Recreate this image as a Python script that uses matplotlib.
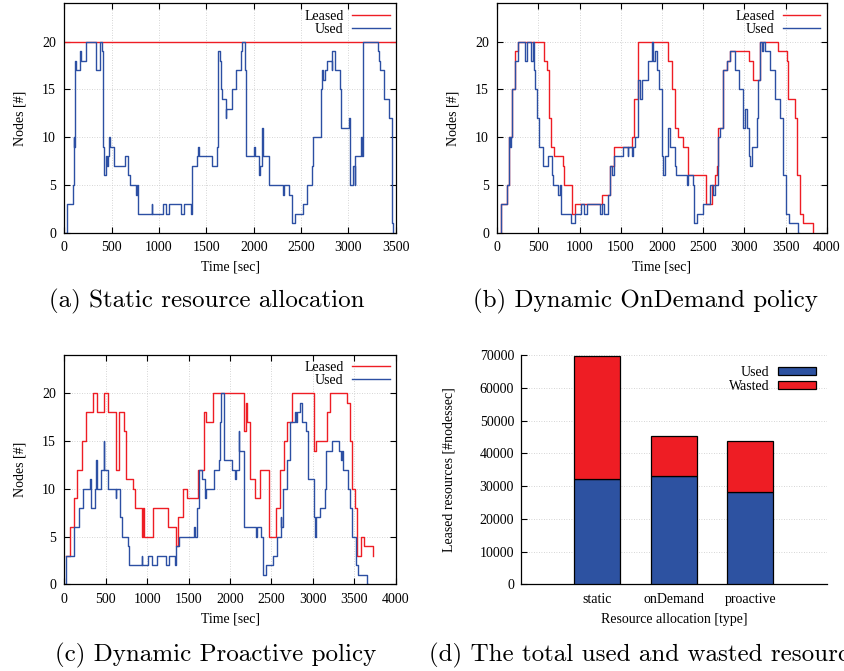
import matplotlib
matplotlib.use("Agg")
import matplotlib.pyplot as plt
from matplotlib.patches import Patch

plt.rcParams['font.family'] = ['Liberation Serif', 'DejaVu Serif']

# ---------------- data ----------------
# (a) static: step series (time [sec], nodes)
a_used_t = [0, 25, 95, 100, 104, 108, 118, 125, 170, 180, 229, 331, 372, 394, 405, 410, 420, 445, 455, 462, 470, 478,
            524, 641, 669, 693, 757, 771, 781, 922, 930, 1038, 1070, 1109, 1232, 1264, 1334, 1345, 1352, 1404, 1410,
            1418, 1559, 1609, 1620, 1627, 1644, 1651, 1662, 1704, 1712, 1767, 1809, 1862, 1873, 1908, 1918, 2003,
            2012, 2059, 2070, 2091, 2101, 2165, 2306, 2323, 2376, 2401, 2436, 2517, 2559, 2612, 2620, 2629, 2707,
            2717, 2728, 2753, 2770, 2823, 2832, 2858, 2911, 2920, 3006, 3014, 3045, 3066, 3073, 3130, 3140, 3151,
            3309, 3325, 3334, 3377, 3433, 3458, 3468, 3475]
a_used_v = [0, 3, 5, 10, 9, 14, 18, 17, 19, 18, 20, 17, 20, 19, 15, 9, 6, 8, 7, 8, 10, 9,
            7, 8, 6, 5, 4, 5, 2, 3, 2, 3, 2, 3, 2, 3, 2, 3, 7, 8, 9,
            8, 7, 9, 13, 19, 18, 15, 14, 12, 13, 15, 17, 19, 20, 17, 8, 9,
            8, 6, 7, 11, 8, 5, 4, 5, 4, 1, 2, 3, 5, 6, 7, 10, 15,
            17, 16, 17, 18, 17, 19, 17, 15, 11, 12, 5, 7, 5, 8, 10, 8, 20,
            19, 18, 17, 14, 12, 1, 0, 0]
a_leased_t = [0, 3500]
a_leased_v = [20, 20]

# (b) on-demand
b_leased_t = [40, 45, 114, 142, 182, 215, 247, 571, 599, 628, 652, 692, 802, 814, 903, 943, 1275, 1368, 1421, 1631,
              1664, 1704, 2076, 2117, 2157, 2198, 2250, 2319, 2533, 2602, 2643, 2664, 2684, 2744, 2784, 2825, 3060,
              3100, 3189, 3412, 3513, 3533, 3614, 3634, 3675, 3715, 3828, 3830]
b_leased_v = [0, 3, 5, 10, 15, 19, 20, 18, 17, 12, 9, 8, 7, 5, 2, 3, 4, 7, 9, 10,
              14, 20, 18, 15, 11, 10, 9, 6, 3, 5, 6, 7, 11, 17, 18, 19, 18,
              16, 20, 19, 18, 14, 12, 6, 2, 1, 0, 0]
b_used_t = [40, 45, 114, 142, 155, 165, 182, 215, 247, 336, 360, 405, 429, 450, 458, 478, 510, 559, 620, 660, 680,
            741, 761, 773, 895, 943, 1016, 1057, 1085, 1247, 1275, 1299, 1348, 1368, 1397, 1421, 1530, 1583, 1591,
            1631, 1651, 1672, 1712, 1730, 1753, 1834, 1874, 1894, 1915, 1935, 1960, 1995, 2015, 2036, 2076, 2096,
            2157, 2169, 2299, 2319, 2380, 2392, 2420, 2501, 2582, 2623, 2643, 2683, 2710, 2744, 2784, 2825, 2886,
            2938, 2987, 3007, 3035, 3060, 3070, 3088, 3149, 3169, 3189, 3209, 3230, 3250, 3310, 3371, 3432, 3472,
            3505, 3545, 3654, 3660]
b_used_v = [0, 3, 5, 10, 9, 10, 15, 18, 20, 18, 20, 18, 20, 17, 15, 12, 9, 7, 8, 6, 5,
            4, 5, 2, 1, 2, 3, 2, 3, 2, 3, 2, 4, 7, 6, 8, 9, 8, 9,
            8, 9, 10, 16, 14, 16, 18, 20, 18, 19, 17, 15, 8, 6, 8, 11, 9,
            7, 6, 5, 6, 5, 1, 2, 3, 5, 4, 5, 10, 11, 17, 18, 19, 17,
            15, 11, 13, 11, 8, 7, 9, 12, 16, 20, 19, 20, 19, 17, 14, 12, 6,
            2, 1, 0, 0]

# (c) proactive
c_leased_t = [16, 68, 117, 157, 209, 258, 350, 398, 479, 531, 620, 664, 720, 750, 833, 853, 934, 955, 962, 1066,
              1247, 1344, 1376, 1437, 1485, 1610, 1680, 1712, 1800, 2169, 2197, 2205, 2237, 2298, 2358, 2467, 2559,
              2600, 2652, 2692, 2748, 3014, 3042, 3175, 3203, 3416, 3444, 3472, 3513, 3537, 3577, 3617, 3726]
c_leased_v = [3, 6, 9, 12, 15, 18, 20, 18, 20, 18, 12, 18, 16, 11, 10, 8, 5, 8, 5, 8,
              6, 4, 7, 10, 9, 12, 18, 17, 20, 16, 19, 17, 11, 9, 12, 5, 8,
              12, 15, 17, 20, 14, 15, 18, 20, 19, 15, 10, 8, 3, 5, 4, 3]
c_used_t = [12, 20, 113, 181, 221, 310, 318, 326, 366, 383, 390, 447, 475, 483, 527, 620, 628, 676, 696, 769, 777,
            935, 942, 1010, 1058, 1119, 1227, 1259, 1337, 1345, 1388, 1570, 1577, 1601, 1621, 1662, 1702, 1712,
            1802, 1863, 1880, 1895, 1923, 2024, 2060, 2068, 2105, 2113, 2169, 2315, 2322, 2378, 2398, 2439, 2519,
            2571, 2610, 2620, 2640, 2692, 2720, 2781, 2800, 2812, 2841, 2869, 2921, 2941, 3014, 3030, 3040, 3082,
            3143, 3163, 3227, 3320, 3340, 3348, 3368, 3428, 3449, 3469, 3525, 3545, 3658, 3665]
c_used_v = [0, 3, 6, 8, 10, 11, 10, 8, 10, 13, 10, 12, 15, 12, 10, 9, 10, 7, 5, 4, 2,
            3, 2, 3, 2, 3, 2, 3, 2, 4, 5, 6, 5, 8, 12, 11, 9, 10,
            12, 13, 17, 20, 13, 12, 11, 12, 16, 14, 6, 5, 6, 5, 1, 2, 3,
            5, 7, 6, 10, 13, 17, 18, 17, 18, 19, 17, 16, 11, 7, 5, 7, 8,
            10, 14, 15, 14, 13, 14, 12, 10, 8, 5, 2, 1, 0, 0]

# (d) totals
categories = ['static', 'onDemand', 'proactive']
used_total = [32300, 33100, 28200]
wasted_total = [37400, 12100, 15500]

# ---------------- style ----------------
RED = '#ee1d24'
BLUE = '#2c4fa3'
BAR_BLUE = '#2d52a1'
TICK_FS = 10
CAP_FS = 18

fig = plt.figure(figsize=(8.44, 6.71), dpi=100)


def style_ts(ax, xmax):
    ax.set_xlim(0, xmax)
    ax.set_ylim(0, 24)
    ax.set_yticks([0, 5, 10, 15, 20])
    ax.set_xticks(list(range(0, xmax + 1, 500)))
    ax.tick_params(direction='in', top=True, right=True, labelsize=TICK_FS, length=4, width=0.8, pad=6)
    ax.grid(True, linestyle=(0, (1, 2)), color='#c8c8c8', linewidth=0.6)
    for s in ax.spines.values():
        s.set_linewidth(0.9)
    ax.set_xlabel('Time [sec]', fontsize=TICK_FS, labelpad=5)
    ax.set_ylabel('Nodes [#]', fontsize=TICK_FS, labelpad=11)
    ax.legend(loc='upper right', frameon=False, markerfirst=False, fontsize=TICK_FS,
              handlelength=2.7, handletextpad=0.6, labelspacing=0.0, borderaxespad=0.05)


def panel(rect, xmax, lt, lv, ut, uv):
    ax = fig.add_axes(rect)
    ax.step(lt, lv, where='post', color=RED, lw=1.0, label='Leased')
    ax.step(ut, uv, where='post', color=BLUE, lw=1.0, label='Used')
    style_ts(ax, xmax)
    return ax


ax_a = panel([0.0762, 0.6532, 0.3927, 0.3416], 3500, a_leased_t, a_leased_v, a_used_t, a_used_v)
ax_b = panel([0.5892, 0.6532, 0.3903, 0.3416], 4000, b_leased_t, b_leased_v, b_used_t, b_used_v)
ax_c = panel([0.0762, 0.1292, 0.3927, 0.3416], 4000, c_leased_t, c_leased_v, c_used_t, c_used_v)

# (d) stacked bars
ax_d = fig.add_axes([0.6173, 0.1292, 0.3622, 0.3417])
x = list(range(len(categories)))
ax_d.bar(x, used_total, width=0.6, color=BAR_BLUE, edgecolor='black', linewidth=0.9, label='Used', zorder=3)
ax_d.bar(x, wasted_total, width=0.6, bottom=used_total, color=RED, edgecolor='black', linewidth=0.9,
         label='Wasted', zorder=3)
ax_d.set_xlim(-1, 3)
ax_d.set_ylim(0, 70000)
ax_d.set_yticks(range(0, 70001, 10000))
ax_d.set_xticks(x)
ax_d.set_xticklabels(categories)
ax_d.tick_params(axis='y', direction='in', length=4, width=0.8, labelsize=TICK_FS, pad=5)
ax_d.tick_params(axis='x', length=0, labelsize=TICK_FS, pad=6.5)
ax_d.spines['top'].set_visible(False)
ax_d.spines['right'].set_visible(False)
ax_d.spines['left'].set_linewidth(0.9)
ax_d.spines['bottom'].set_linewidth(0.9)
ax_d.yaxis.grid(True, linestyle=(0, (1, 2)), color='#c8c8c8', linewidth=0.6)
ax_d.set_axisbelow(True)
ax_d.set_xlabel('Resource allocation [type]', fontsize=TICK_FS, labelpad=5)
ax_d.set_ylabel('Leased resources [#nodessec]', fontsize=TICK_FS, labelpad=17)
handles = [Patch(facecolor=BAR_BLUE, edgecolor='black', linewidth=0.9, label='Used'),
           Patch(facecolor=RED, edgecolor='black', linewidth=0.9, label='Wasted')]
ax_d.legend(handles=handles, loc='upper right', frameon=False, markerfirst=False, fontsize=TICK_FS,
            handlelength=2.7, handleheight=0.55, handletextpad=0.6, labelspacing=0.05, borderaxespad=0.4)

# captions (caption (d) runs past the right edge, as in the original figure)
cap_kw = dict(fontsize=CAP_FS, family=['cmr10', 'DejaVu Serif'], va='baseline')
fig.text(207 / 844, 1 - 307 / 671, '(a) Static resource allocation', ha='center', **cap_kw)
fig.text(645 / 844, 1 - 307 / 671, '(b) Dynamic OnDemand policy', ha='center', **cap_kw)
fig.text(216 / 844, 1 - 661 / 671, '(c) Dynamic Proactive policy', ha='center', **cap_kw)
fig.text(429 / 844, 1 - 661 / 671, '(d) The total used and wasted resources', ha='left', **cap_kw)

fig.savefig('out.png', dpi=100)
